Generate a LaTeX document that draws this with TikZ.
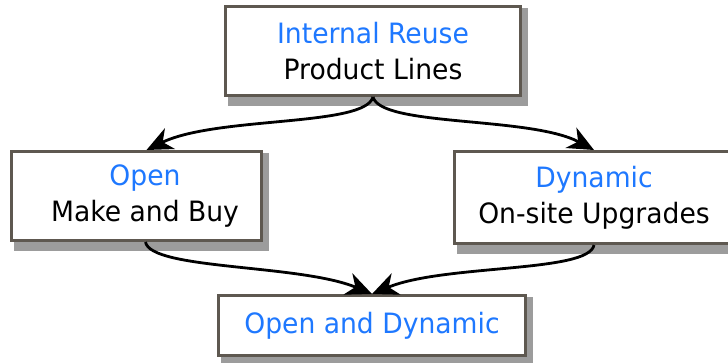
\documentclass[tikz,border=0pt]{standalone}
\usepackage{fontspec}
\setmainfont{DejaVu Sans}[FakeStretch=0.95]
\usetikzlibrary{arrows.meta,backgrounds}

\definecolor{boxline}{HTML}{5E5850}
\definecolor{keyblue}{HTML}{1E78FF}
\definecolor{shade}{HTML}{9C9C9C}

\begin{document}
\begin{tikzpicture}[x=1pt, y=-1pt,
    stage/.style={draw=boxline, line width=3pt, fill=white, inner sep=0pt},
    caption/.style={align=center, inner sep=0pt, font=\fontsize{28}{36}\selectfont},
    boxshadow/.style={fill=shade},
    flow/.style={-{Stealth[length=26pt, width=23pt, inset=8pt]}, line width=2.8pt}]

    % Rahmen
    \useasboundingbox (0,0) rectangle (728,362);

    % Kaesten
    \node[stage, minimum width=295pt, minimum height=89pt] (reuse) at (373,51) {};
    \node[stage, minimum width=250pt, minimum height=89pt] (open) at (136.5,196) {};
    \node[stage, minimum width=279pt, minimum height=92pt] (dyn) at (594,197.5) {};
    \node[stage, minimum width=307pt, minimum height=60pt] (both) at (372,325.5) {};

    % Beschriftung
    \node[caption] (reusetext) at (reuse) {\textcolor{keyblue}{Internal Reuse}\\Product Lines};
    \node[caption] (opentext) at (145,196) {\textcolor{keyblue}{Open}\\Make and Buy};
    \node[caption] (dyntext) at (dyn) {\textcolor{keyblue}{Dynamic}\\On-site Upgrades};
    \node[caption] (bothtext) at (both) {\textcolor{keyblue}{Open and Dynamic}};

    % Schatten
    \begin{scope}[on background layer]
        \foreach \b in {reuse,open,dyn,both}
            \fill[boxshadow] ([xshift=4pt,yshift=-3pt]\b.north west) rectangle ([xshift=6pt,yshift=-9pt]\b.south east);
    \end{scope}

    % Pfeile
    \draw[flow] (reuse.south) .. controls +(-8,30) and +(70,-34) .. ([xshift=10pt]open.north);
    \draw[flow] (reuse.south) .. controls +(8,30) and +(-64,-34) .. (dyn.north);
    \draw[flow] ([xshift=9pt]open.south) .. controls +(5,28) and +(-72,-30) .. (both.north);
    \draw[flow] (dyn.south) .. controls +(-5,28) and +(72,-30) .. (both.north);

\end{tikzpicture}
\end{document}
